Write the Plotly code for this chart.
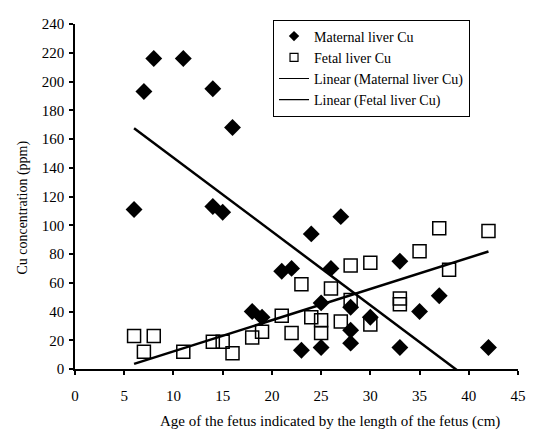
import numpy as np
import plotly.graph_objects as go

# Maternal liver Cu (length cm, ppm)
maternal_x = [6, 7, 8, 11, 14, 14, 15, 16, 18, 19, 21, 22, 23, 24, 25, 25, 26, 27, 28, 28, 28, 30, 33, 33, 35, 37, 42]
maternal_y = [111, 193, 216, 216, 195, 113, 109, 168, 40, 36, 68, 70, 13, 94, 46, 15, 70, 106, 43, 27, 18, 36, 75, 15, 40, 51, 15]

# Fetal liver Cu
fetal_x = [6, 7, 8, 11, 14, 15, 16, 18, 19, 21, 22, 23, 24, 25, 25, 26, 27, 28, 28, 30, 30, 33, 33, 35, 37, 38, 42]
fetal_y = [23, 12, 23, 12, 19, 19, 11, 22, 26, 37, 25, 59, 36, 34, 25, 56, 33, 72, 48, 74, 31, 49, 45, 82, 98, 69, 96]

x_ticks = [0, 5, 10, 15, 20, 25, 30, 35, 40, 45]
y_ticks = [0, 20, 40, 60, 80, 100, 120, 140, 160, 180, 200, 220, 240]

names = ["Maternal liver Cu", "Fetal liver Cu", "Linear (Maternal liver Cu)", "Linear (Fetal liver Cu)"]
x_title = "Age of the fetus indicated by the length of the fetus (cm)"
y_title = "Cu concentration (ppm)"

FONT = "Liberation Serif, Times New Roman, serif"

def trend(xs, ys):
    m, b = np.polyfit(xs, ys, 1)
    lx = np.array([min(xs), max(xs)], dtype=float)
    return lx, m * lx + b

mlx, mly = trend(maternal_x, maternal_y)
flx, fly = trend(fetal_x, fetal_y)

fig = go.Figure()
# data marks (legend drawn by the small legend-only entries below)
fig.add_trace(go.Scatter(x=mlx, y=mly, mode="lines", showlegend=False,
                         line=dict(color="black", width=2.5)))
fig.add_trace(go.Scatter(x=flx, y=fly, mode="lines", showlegend=False,
                         line=dict(color="black", width=2.5)))
fig.add_trace(go.Scatter(x=maternal_x, y=maternal_y, mode="markers", showlegend=False,
                         marker=dict(symbol="diamond", size=13, color="black")))
fig.add_trace(go.Scatter(x=fetal_x, y=fetal_y, mode="markers", showlegend=False,
                         marker=dict(symbol="square-open", size=13, color="black",
                                     line=dict(width=1.5, color="black"))))

# legend entries
fig.add_trace(go.Scatter(x=[None], y=[None], mode="markers", name=names[0],
                         marker=dict(symbol="diamond", size=8, color="black")))
fig.add_trace(go.Scatter(x=[None], y=[None], mode="markers", name=names[1],
                         marker=dict(symbol="square-open", size=8, color="black",
                                     line=dict(width=1.2, color="black"))))
fig.add_trace(go.Scatter(x=[None], y=[None], mode="lines", name=names[2],
                         line=dict(color="black", width=1.2)))
fig.add_trace(go.Scatter(x=[None], y=[None], mode="lines", name=names[3],
                         line=dict(color="black", width=1.2)))

fig.update_layout(
    width=526, height=423,
    margin=dict(l=67, r=8, t=9, b=62),
    paper_bgcolor="white", plot_bgcolor="white",
    font=dict(family=FONT, size=14, color="black"),
    showlegend=True,
    legend=dict(x=0.447, y=1.013, xanchor="left", yanchor="top",
                bgcolor="white", bordercolor="black", borderwidth=1,
                font=dict(family=FONT, size=14), itemsizing="trace"),
    xaxis=dict(range=[0, 45], tickvals=x_ticks, showgrid=False, zeroline=False,
               showline=True, linecolor="black", linewidth=1.5,
               ticks="outside", ticklen=4, tickcolor="black", tickwidth=1.5,
               tickfont=dict(family=FONT, size=15), ticklabelstandoff=8),
    yaxis=dict(range=[0, 240], tickvals=y_ticks, showgrid=False, zeroline=False,
               showline=True, linecolor="black", linewidth=1.5,
               ticks="outside", ticklen=4, tickcolor="black", tickwidth=1.5,
               tickfont=dict(family=FONT, size=15), ticklabelstandoff=2),
    annotations=[
        dict(text=x_title, xref="paper", yref="paper", x=0.575, y=-0.1526,
             xanchor="center", yanchor="middle", showarrow=False,
             font=dict(family=FONT, size=15)),
        dict(text=y_title, xref="paper", yref="paper", x=-0.118, y=0.467,
             xanchor="center", yanchor="middle", showarrow=False, textangle=-90,
             font=dict(family=FONT, size=14)),
    ],
)

fig.write_html("out.html")
